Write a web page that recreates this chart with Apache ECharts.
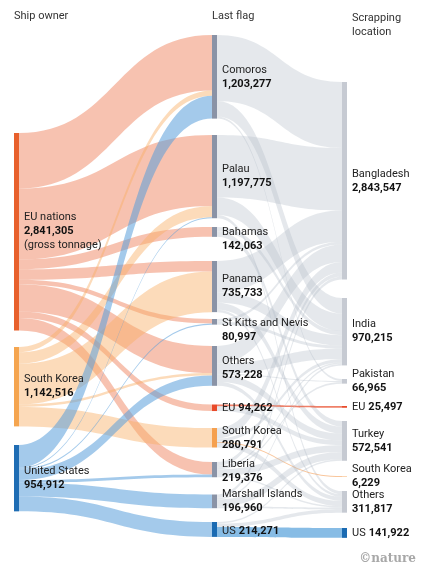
<!DOCTYPE html>
<html>
<head>
<meta charset="utf-8">
<script src="https://cdn.jsdelivr.net/npm/echarts@6/dist/echarts.min.js"></script>
<style>html,body{margin:0;padding:0;background:#fff}#main{width:424px;height:569px}</style>
</head>
<body>
<div id="main"></div>
<script>
// ship owner -> last flag -> scrapping location (gross tonnage)
var owners = ['EU nations', 'South Korea', 'United States'];
var ownerTotals = [2841305, 1142516, 954912];

var flags = ['Comoros', 'Palau', 'Bahamas', 'Panama', 'St Kitts and Nevis', 'Others',
             'EU', 'South Korea', 'Liberia', 'Marshall Islands', 'US'];
var flagTotals = [1203277, 1197775, 142063, 735733, 80997, 573228, 94262, 280791, 219376, 196960, 214271];

var places = ['Bangladesh', 'India', 'Pakistan', 'EU', 'Turkey', 'South Korea', 'Others', 'US'];
var placeTotals = [2843547, 970215, 66965, 25497, 572541, 6229, 311817, 141922];

// rows = owners, cols = flags
var ownerToFlag = [
    [800000, 1020000, 142063, 150000, 65000, 389980, 94262, 0, 180000, 0, 0],
    [75000, 165000, 0, 585733, 0, 35992, 0, 280791, 0, 0, 0],
    [328277, 12775, 0, 0, 15997, 147256, 0, 0, 39376, 196960, 214271]
];
// rows = flags, cols = places
var flagToPlace = [
    [950000, 223277, 30000, 0, 0, 0, 0, 0],
    [900000, 250000, 0, 0, 0, 0, 47775, 0],
    [0, 62063, 0, 0, 80000, 0, 0, 0],
    [450000, 150000, 0, 0, 100000, 0, 35733, 0],
    [40000, 40997, 0, 0, 0, 0, 0, 0],
    [250000, 150000, 13228, 0, 100000, 0, 60000, 0],
    [0, 0, 0, 25497, 68765, 0, 0, 0],
    [150000, 50000, 0, 0, 0, 6229, 74562, 0],
    [60000, 20000, 23737, 0, 95639, 0, 20000, 0],
    [43547, 23878, 0, 0, 105788, 0, 23747, 0],
    [0, 0, 0, 0, 22349, 0, 50000, 141922]
];

// layout of the sankey box (px)
var BOX_W = 424, BOX_H = 500;
var colX = [14, 212, 342];
var ownerTop = [133, 347, 445];
var flagTop = [35, 135, 227, 261, 319, 346, 404.5, 428, 462, 494.5, 522];
var placeTop = [82, 298, 379, 406, 421, 476, 491, 528];
var flagLabelShift = [0, 0, 7, 0, 8, 2, 0, 0, 2, 0, 2];

var ownerColor = ['#e8602c', '#f5a54f', '#1f6db4'];
var ownerLinkColor = ['#f08562', '#f9b066', '#5a9fdb'];
var ownerLinkOpacity = [0.5, 0.45, 0.55];
var flagColor = {'EU': '#e84a2a', 'South Korea': '#f5a04f', 'US': '#1a6ab2'};
var placeColor = {'EU': '#e84a2a', 'South Korea': '#f5a04f', 'US': '#1a6ab2'};

function fmt(n) { return n.toLocaleString('en-US'); }
function oneLine(name) { return name === 'EU' || name === 'US'; }
function labelText(name, v) {
    if (oneLine(name)) return '{n|' + name + '} {v|' + fmt(v) + '}';
    return '{n|' + name + '}\n{v|' + fmt(v) + '}';
}

var nodes = [];
var links = [];

owners.forEach(function (name, i) {
    var txt = labelText(name, ownerTotals[i]);
    if (i === 0) txt += '\n{n|(gross tonnage)}';
    nodes.push({
        name: 'o:' + name,
        localX: colX[0] / BOX_W, localY: ownerTop[i] / BOX_H,
        itemStyle: {color: ownerColor[i]},
        label: {formatter: txt}
    });
});
flags.forEach(function (name, i) {
    nodes.push({
        name: 'f:' + name,
        localX: colX[1] / BOX_W, localY: flagTop[i] / BOX_H,
        itemStyle: {color: flagColor[name] || '#8a93a6'},
        label: {formatter: labelText(name, flagTotals[i]), offset: [0, flagLabelShift[i]]}
    });
});
places.forEach(function (name, i) {
    nodes.push({
        name: 'l:' + name,
        localX: colX[2] / BOX_W, localY: placeTop[i] / BOX_H,
        itemStyle: {color: placeColor[name] || '#c6cad2'},
        label: {formatter: labelText(name, placeTotals[i])}
    });
});

ownerToFlag.forEach(function (row, i) {
    row.forEach(function (v, j) {
        if (!v) return;
        links.push({
            source: 'o:' + owners[i], target: 'f:' + flags[j], value: v,
            lineStyle: {color: ownerLinkColor[i], opacity: ownerLinkOpacity[i]}
        });
    });
});
flagToPlace.forEach(function (row, i) {
    row.forEach(function (v, j) {
        if (!v) return;
        var col = '#b4bbc8', op = 0.34;
        if (flags[i] === places[j]) {
            if (flags[i] === 'EU') { col = '#e84a2a'; op = 0.7; }
            if (flags[i] === 'US') { col = '#5fa6dc'; op = 0.75; }
            if (flags[i] === 'South Korea') { col = '#f5a05a'; op = 0.6; }
        }
        links.push({
            source: 'f:' + flags[i], target: 'l:' + places[j], value: v,
            lineStyle: {color: col, opacity: op}
        });
    });
});

var chart = echarts.init(document.getElementById('main'));
chart.setOption({
    backgroundColor: '#fff',
    animation: false,
    graphic: [
        {type: 'text', left: 14, top: 11, style: {text: 'Ship owner', font: '11px Roboto', fill: '#333'}},
        {type: 'text', left: 212, top: 11, style: {text: 'Last flag', font: '11px Roboto', fill: '#333'}},
        {type: 'text', left: 352, top: 11, style: {text: 'Scrapping\nlocation', font: '11px Roboto', lineHeight: 14, fill: '#333'}},
        {type: 'text', right: 8, top: 553, style: {text: '\u00a9nature', font: 'bold 12px "DejaVu Serif"', fill: '#a8a8a8'}}
    ],
    series: [{
        type: 'sankey',
        left: 0, top: 0, right: 0, bottom: 569 - BOX_H,
        nodeWidth: 5,
        nodeGap: 15.68,
        layoutIterations: 0,
        draggable: false,
        emphasis: {disabled: true},
        itemStyle: {borderWidth: 0},
        lineStyle: {curveness: 0.5},
        label: {
            position: 'right',
            distance: 5,
            fontFamily: 'Roboto',
            rich: {
                n: {fontSize: 11, lineHeight: 14, fontFamily: 'Roboto', color: '#222'},
                v: {fontSize: 11, lineHeight: 14, fontFamily: 'Roboto', fontWeight: 'bold', color: '#111'}
            }
        },
        data: nodes,
        links: links
    }]
});
</script>
</body>
</html>
